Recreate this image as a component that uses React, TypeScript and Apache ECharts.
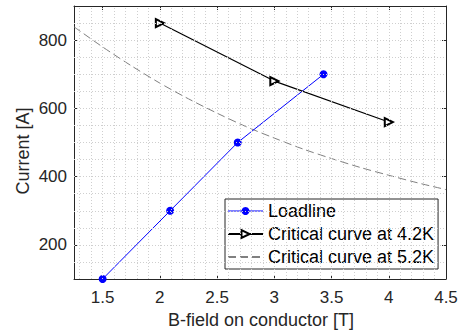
import React, { useEffect, useRef } from "react";
import * as echarts from "echarts";

const loadB = [1.5, 2.09, 2.68, 3.43];
const loadI = [100, 300, 500, 700];

const crit42B = [2, 3, 4];
const crit42I = [850, 680, 560];

const crit52B = [1.25, 1.5, 1.75, 2.0, 2.25, 2.5, 2.75, 3.0, 3.25, 3.5, 3.75, 4.0, 4.25, 4.5];
const crit52I = [839, 780, 725, 674, 628, 586, 547, 513, 481, 453, 427, 404, 382, 362];

const xTicks = [1.5, 2, 2.5, 3, 3.5, 4, 4.5];
const yTicks = [200, 400, 600, 800];

const xMin = 1.25;
const xMax = 4.5;
const yMin = 100;
const yMax = 900;

const seriesNames = ["Loadline", "Critical curve at 4.2K", "Critical curve at 5.2K"];

const FONT = "'Liberation Sans', Arial, Helvetica, sans-serif";
const AX = "#262626";

export default function App() {
  const ref = useRef<HTMLDivElement>(null);

  useEffect(() => {
    if (!ref.current) return;
    const chart = echarts.init(ref.current, undefined, { renderer: "svg" });

    const xGrid: number[] = [];
    for (let k = 13; k <= 44; k++) xGrid.push(k / 10);
    const yGrid: number[] = [];
    for (let v = 150; v <= 850; v += 50) yGrid.push(v);

    const gridLineStyle = { color: "#cfcfcf", width: 1, type: [1, 2] as any };

    const axisLineStyle = { color: AX, width: 1 };

    chart.setOption({
      animation: false,
      backgroundColor: "#fff",
      grid: { left: 74, top: 6, right: 20, bottom: 56, containLabel: false },
      xAxis: [
        {
          type: "value",
          min: xMin,
          max: xMax,
          position: "bottom",
          axisLine: { show: true, lineStyle: axisLineStyle },
          axisTick: { show: true, inside: true, length: 4, customValues: xTicks, lineStyle: axisLineStyle },
          axisLabel: { show: true, customValues: xTicks, fontSize: 17, color: AX, fontFamily: FONT, margin: 10 },
          splitLine: { show: false },
        },
        {
          type: "value",
          min: xMin,
          max: xMax,
          position: "top",
          axisLine: { show: true, lineStyle: axisLineStyle },
          axisTick: { show: true, inside: true, length: 4, customValues: xTicks, lineStyle: axisLineStyle },
          axisLabel: { show: false },
          splitLine: { show: false },
        },
      ],
      yAxis: [
        {
          type: "value",
          min: yMin,
          max: yMax,
          position: "left",
          axisLine: { show: true, lineStyle: axisLineStyle },
          axisTick: { show: true, inside: true, length: 4, customValues: yTicks, lineStyle: axisLineStyle },
          axisLabel: { show: true, customValues: yTicks, fontSize: 17, color: AX, fontFamily: FONT, margin: 7 },
          splitLine: { show: false },
        },
        {
          type: "value",
          min: yMin,
          max: yMax,
          position: "right",
          axisLine: { show: true, lineStyle: axisLineStyle },
          axisTick: { show: true, inside: true, length: 4, customValues: yTicks, lineStyle: axisLineStyle },
          axisLabel: { show: false },
          splitLine: { show: false },
        },
      ],
      legend: {
        data: [
          { name: seriesNames[0], lineStyle: { type: "solid", width: 1.2, color: "#0000ff" } },
          { name: seriesNames[1] },
          { name: seriesNames[2], itemStyle: { opacity: 0 } },
        ],
        orient: "vertical",
        left: 225,
        top: 199,
        padding: [3, 4, 3, 2],
        itemGap: 5,
        itemWidth: 35,
        itemHeight: 10,
        borderColor: AX,
        borderWidth: 1,
        borderRadius: 0,
        backgroundColor: "#fff",
        textStyle: { fontSize: 18, color: "#000", fontFamily: FONT },
      },
      graphic: [
        {
          type: "text",
          x: 23,
          y: 151,
          rotation: Math.PI / 2,
          style: {
            text: "Current [A]",
            fontSize: 18,
            fontFamily: FONT,
            fill: AX,
            align: "center",
            verticalAlign: "middle",
          },
        },
        {
          type: "text",
          x: 261,
          y: 320,
          style: {
            text: "B-field on conductor [T]",
            fontSize: 18,
            fontFamily: FONT,
            fill: AX,
            align: "center",
            verticalAlign: "middle",
          },
        },
      ],
      series: [
        {
          name: "__grid",
          type: "line",
          data: [],
          z: 1,
          silent: true,
          markLine: {
            silent: true,
            symbol: ["none", "none"],
            label: { show: false },
            lineStyle: gridLineStyle,
            emphasis: { disabled: true },
            data: [
              ...xGrid.map((v) => ({ xAxis: v, lineStyle: gridLineStyle })),
              ...yGrid.map((v) => ({ yAxis: v, lineStyle: gridLineStyle })),
            ],
          },
        },
        {
          name: seriesNames[0],
          type: "line",
          z: 3,
          data: loadB.map((b, i) => [b, loadI[i]]),
          color: "#0000ff",
          symbol: "circle",
          symbolSize: 8,
          lineStyle: { width: 1, color: "#0000ff", type: "solid" },
          itemStyle: { color: "#0000ff", borderColor: "#0000ff", borderWidth: 0 },
        },
        {
          name: seriesNames[1],
          type: "line",
          z: 3,
          data: crit42B.map((b, i) => [b, crit42I[i]]),
          color: "#000000",
          symbol: "emptyTriangle",
          symbolRotate: -90,
          symbolSize: 8,
          lineStyle: { width: 1.2, color: "#000000" },
          itemStyle: { color: "#000000", borderWidth: 1 },
        },
        {
          name: seriesNames[2],
          type: "line",
          z: 2,
          data: crit52B.map((b, i) => [b, crit52I[i]]),
          color: "#808080",
          symbol: "none",
          showSymbol: false,
          smooth: 0.3,
          lineStyle: { width: 1, color: "#808080", type: [8, 4] },
        },
      ],
    });

    return () => chart.dispose();
  }, []);

  return (
    <div
      ref={ref}
      style={{ position: "fixed", left: 0, top: 0, width: 466, height: 335 }}
    />
  );
}
